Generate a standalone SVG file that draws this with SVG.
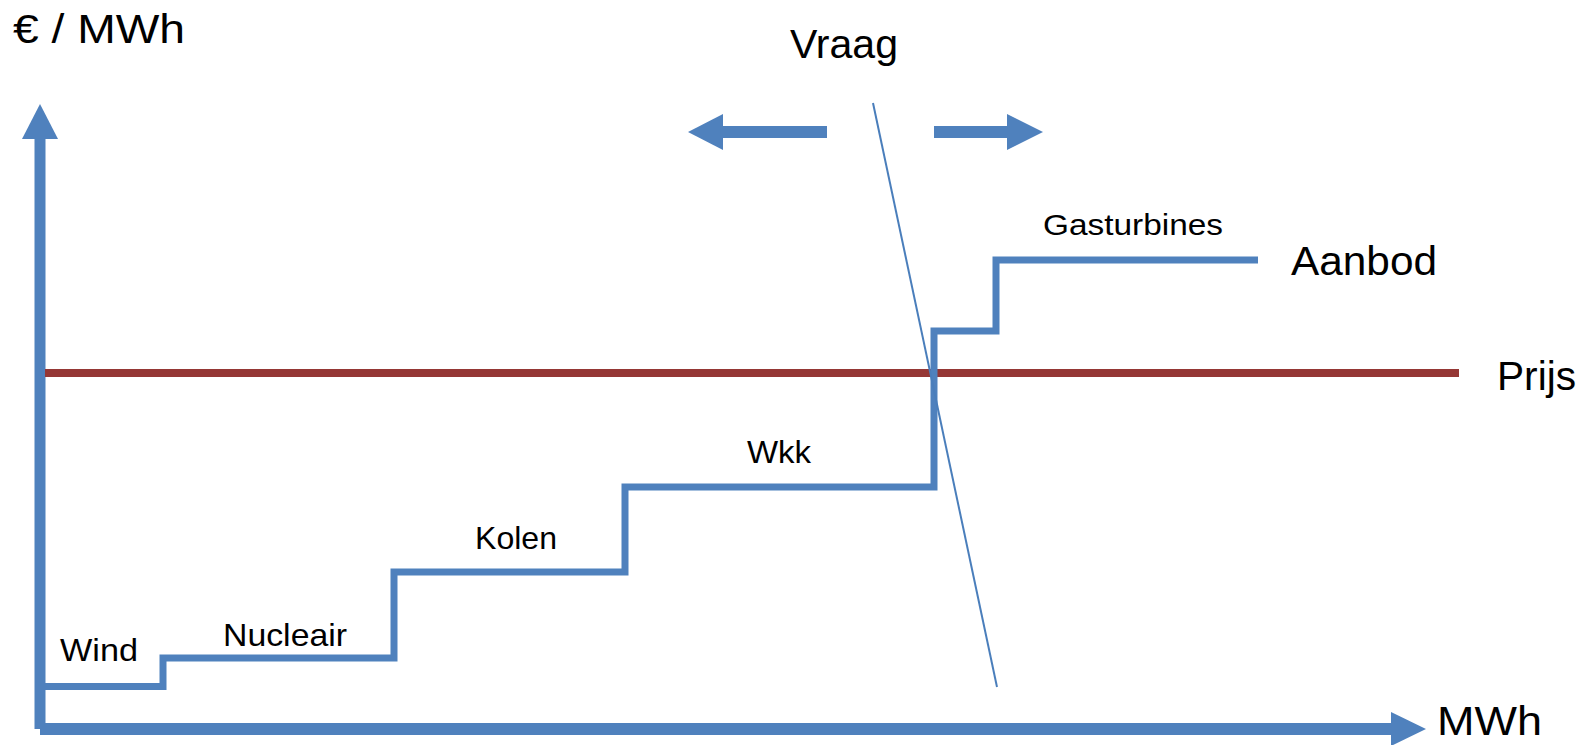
<svg xmlns="http://www.w3.org/2000/svg" width="1589" height="745" viewBox="0 0 1589 745">
<style>
.lbl{font-family:"Liberation Sans",Arial,sans-serif;fill:#000}
.big{font-size:40px}
.mid{font-size:32px}
.sm{font-size:29px}
.step{fill:none;stroke:#4F81BD;stroke-width:7;stroke-linejoin:miter}
.axis{fill:#4F81BD}
</style>
<rect width="1589" height="745" fill="#fff"/>
<g id="axes">
  <rect class="axis" x="34.5" y="136" width="11" height="593"/>
  <polygon class="axis" points="40,104 58,139 22,139"/>
  <rect class="axis" x="40" y="723" width="1352" height="12"/>
  <polygon class="axis" points="1426,729 1391,712 1391,746"/>
</g>
<g id="prijs-line">
  <rect x="45" y="369" width="1414" height="8" fill="#953735"/>
</g>
<g id="connectors">
  <polyline id="aanbod-curve" class="step" points="45,686.5 163,686.5 163,658 394,658 394,572 625,572 625,487 934,487 934,331 996,331 996,260 1258,260"/>
  <line id="vraag-curve" x1="873" y1="103" x2="997" y2="687" stroke="#4A7EBB" stroke-width="2"/>
  <g id="shift-left">
    <rect class="axis" x="720" y="126" width="107" height="12"/>
    <polygon class="axis" points="688,132 723,114 723,150"/>
  </g>
  <g id="shift-right">
    <rect class="axis" x="934" y="126" width="76" height="12"/>
    <polygon class="axis" points="1043,132 1007,114 1007,150"/>
  </g>
</g>
<g id="labels">
  <text id="y-label" class="lbl big" x="13" y="43" textLength="172" lengthAdjust="spacingAndGlyphs">€ / MWh</text>
  <text id="vraag" class="lbl big" x="790" y="58" textLength="108" lengthAdjust="spacingAndGlyphs">Vraag</text>
  <text id="gasturbines" class="lbl sm" x="1043" y="235" textLength="180" lengthAdjust="spacingAndGlyphs">Gasturbines</text>
  <text id="aanbod" class="lbl big" x="1291" y="275" textLength="146" lengthAdjust="spacingAndGlyphs">Aanbod</text>
  <text id="prijs" class="lbl big" x="1497" y="390" textLength="79" lengthAdjust="spacingAndGlyphs">Prijs</text>
  <text id="wkk" class="lbl mid" x="747" y="463" textLength="64" lengthAdjust="spacingAndGlyphs">Wkk</text>
  <text id="kolen" class="lbl mid" x="475" y="549" textLength="82" lengthAdjust="spacingAndGlyphs">Kolen</text>
  <text id="nucleair" class="lbl mid" x="223" y="646" textLength="124" lengthAdjust="spacingAndGlyphs">Nucleair</text>
  <text id="wind" class="lbl mid" x="60" y="661" textLength="78" lengthAdjust="spacingAndGlyphs">Wind</text>
  <text id="x-label" class="lbl big" x="1437" y="735" textLength="105" lengthAdjust="spacingAndGlyphs">MWh</text>
</g>
</svg>
